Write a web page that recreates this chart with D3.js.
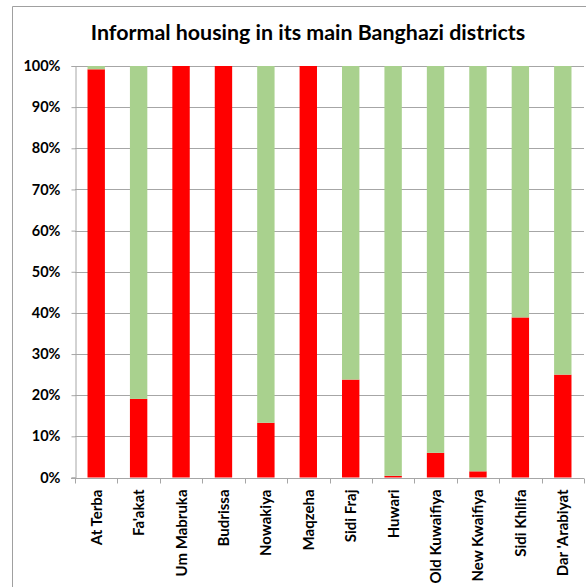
<!DOCTYPE html>
<html>
<head>
<meta charset="utf-8">
<script src="https://cdn.jsdelivr.net/npm/d3@7"></script>
<style>
  html, body { margin: 0; padding: 0; background: #fff; }
  svg { display: block; }
</style>
</head>
<body>
<svg id="chart" width="586" height="587"></svg>
<script>
// Chart data
const title = 'Informal housing in its main Banghazi districts';
const districts = ['At Terba', "Fa'akat", 'Um Mabruka', 'Budrissa', 'Nowakiya', 'Maqzeha',
  'Sidi Fraj', 'Huwari', 'Old Kuwaifiya', 'New Kwaifiya', 'Sidi Khlifa', "Dar 'Arabiyat"];
const informal = [99.2, 19.1, 100, 100, 13.3, 100, 23.8, 0.4, 6.0, 1.5, 38.9, 25.0];
const formal = [0.8, 80.9, 0, 0, 86.7, 0, 76.2, 99.6, 94.0, 98.5, 61.1, 75.0];
const yTickValues = [0, 10, 20, 30, 40, 50, 60, 70, 80, 90, 100];

// Style values
const fontFamily = 'Lato, "Open Sans", "Liberation Sans", sans-serif';
const informalColor = '#ff0000';
const formalColor = '#a9d18e';
const gridColor = '#a6a6a6';
const axisColor = '#a6a6a6';
const textColor = '#000';

const svg = d3.select('#chart'),
  width = 586,
  height = 587;

const plot = { left: 75, right: 584, top: 66, bottom: 477.5 };

// Chart area border (Excel style, runs off right and bottom)
svg.append('path')
  .attr('d', `M12.5,${height + 2}V6.5H${width + 2}`)
  .attr('fill', 'none')
  .attr('stroke', '#a0a0a0')
  .attr('stroke-width', 1);

const rows = districts.map((d, i) => ({ district: d, informal: informal[i], formal: formal[i] }));
const stack = d3.stack().keys(['informal', 'formal']);
const series = stack(rows);

const x = d3.scaleBand()
  .domain(districts)
  .range([plot.left, plot.right])
  .paddingInner(0.59)
  .paddingOuter(0.295);

const y = d3.scaleLinear()
  .domain([0, 100])
  .range([plot.bottom, plot.top]);

// Gridlines
svg.append('g')
  .selectAll('line')
  .data(yTickValues.filter((v) => v > 0))
  .enter()
  .append('line')
  .attr('x1', plot.left)
  .attr('x2', plot.right)
  .attr('y1', (d) => Math.round(y(d)) + 0.5)
  .attr('y2', (d) => Math.round(y(d)) + 0.5)
  .attr('stroke', gridColor)
  .attr('stroke-width', 1);

// Bars
const colors = { informal: informalColor, formal: formalColor };
svg.append('g')
  .selectAll('g')
  .data(series)
  .enter()
  .append('g')
  .attr('fill', (s) => colors[s.key])
  .selectAll('rect')
  .data((s) => s)
  .enter()
  .append('rect')
  .attr('x', (d) => x(d.data.district))
  .attr('width', x.bandwidth())
  .attr('y', (d) => y(d[1]))
  .attr('height', (d) => Math.max(0, y(d[0]) - y(d[1])));

// Y axis
const yAxis = svg.append('g')
  .attr('transform', `translate(${plot.left + 0.5},0)`)
  .call(
    d3.axisLeft(y)
      .tickValues(yTickValues)
      .tickSize(4)
      .tickPadding(11)
      .tickFormat((d) => d + '%')
  );
yAxis.select('.domain').attr('stroke', axisColor);
yAxis.selectAll('.tick line').attr('stroke', axisColor);
yAxis.selectAll('.tick text')
  .attr('fill', textColor)
  .attr('font-family', fontFamily)
  .attr('font-size', '14.5px')
  .attr('font-weight', 'bold');

// X axis with ticks between categories
const xAxis = svg.append('g')
  .attr('transform', `translate(0,${Math.round(plot.bottom) + 0.5})`);
xAxis.append('line')
  .attr('x1', plot.left - 4)
  .attr('x2', plot.right)
  .attr('stroke', axisColor);
const step = x.step();
xAxis.selectAll('.sep')
  .data(d3.range(districts.length + 1))
  .enter()
  .append('line')
  .attr('class', 'sep')
  .attr('x1', (i) => Math.round(plot.left + i * step) + 0.5)
  .attr('x2', (i) => Math.round(plot.left + i * step) + 0.5)
  .attr('y1', 0)
  .attr('y2', 5)
  .attr('stroke', axisColor);
xAxis.selectAll('.label')
  .data(districts)
  .enter()
  .append('text')
  .attr('class', 'label')
  .attr('transform', (d) => `translate(${x(d) + x.bandwidth() / 2 + 5.5},11) rotate(-90)`)
  .attr('text-anchor', 'end')
  .attr('fill', textColor)
  .attr('font-family', fontFamily)
  .attr('font-size', '15px')
  .attr('font-weight', 'bold')
  .text((d) => d);

// Title
svg.append('text')
  .attr('x', 308)
  .attr('y', 39.5)
  .attr('text-anchor', 'middle')
  .attr('fill', textColor)
  .attr('font-family', fontFamily)
  .attr('font-size', '21.4px')
  .attr('font-weight', 'bold')
  .text(title);
</script>
</body>
</html>
